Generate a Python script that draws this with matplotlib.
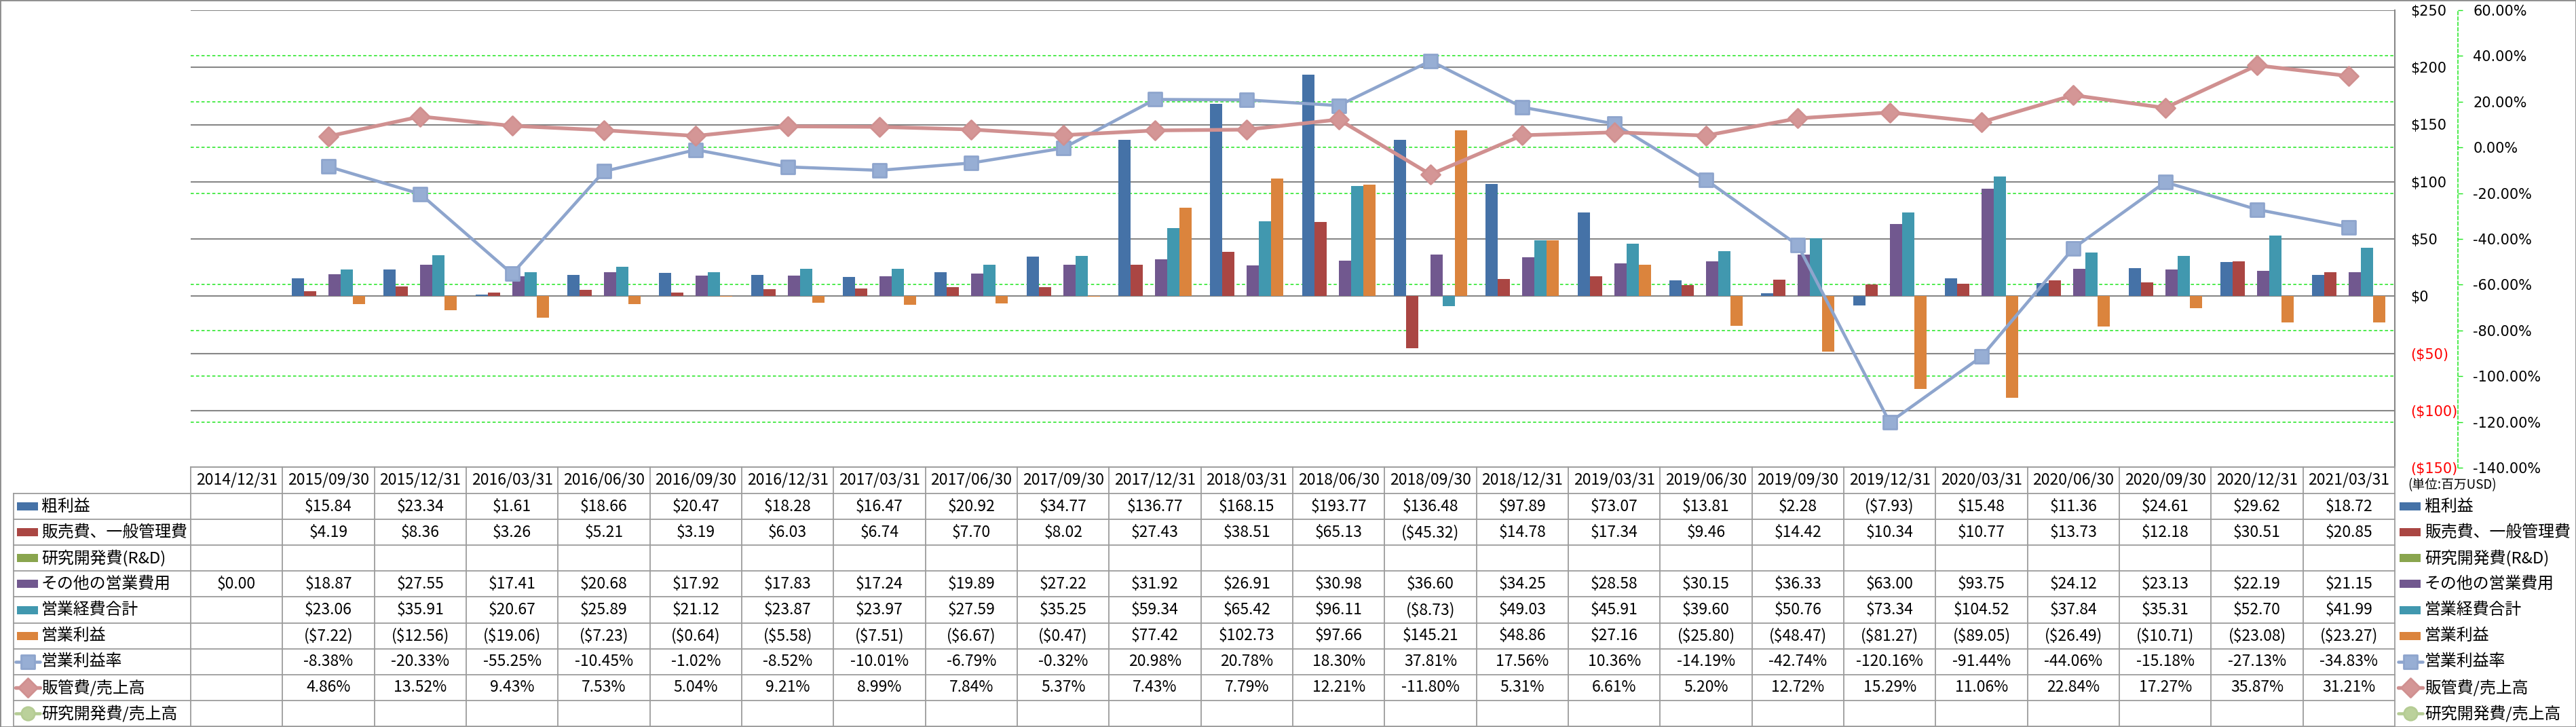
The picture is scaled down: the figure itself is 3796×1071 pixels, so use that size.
import numpy as np
import matplotlib
matplotlib.use("Agg")
import matplotlib.pyplot as plt
from matplotlib.lines import Line2D
from matplotlib.patches import Rectangle
from matplotlib.markers import MarkerStyle

plt.rcParams['font.family'] = ['DejaVu Sans']
CJK = ['Noto Sans CJK JP', 'DejaVu Sans']

# ---------------- data ----------------
categories = ["2014/12/31", "2015/09/30", "2015/12/31", "2016/03/31", "2016/06/30",
              "2016/09/30", "2016/12/31", "2017/03/31", "2017/06/30", "2017/09/30",
              "2017/12/31", "2018/03/31", "2018/06/30", "2018/09/30", "2018/12/31",
              "2019/03/31", "2019/06/30", "2019/09/30", "2019/12/31", "2020/03/31",
              "2020/06/30", "2020/09/30", "2020/12/31", "2021/03/31"]
nan = np.nan
gross_profit = [nan, 15.84, 23.34, 1.61, 18.66, 20.47, 18.28, 16.47, 20.92, 34.77,
                136.77, 168.15, 193.77, 136.48, 97.89, 73.07, 13.81, 2.28, -7.93,
                15.48, 11.36, 24.61, 29.62, 18.72]
sga = [nan, 4.19, 8.36, 3.26, 5.21, 3.19, 6.03, 6.74, 7.70, 8.02, 27.43, 38.51,
       65.13, -45.32, 14.78, 17.34, 9.46, 14.42, 10.34, 10.77, 13.73, 12.18,
       30.51, 20.85]
rnd = [nan, nan, nan, nan, nan, nan, nan, nan, nan, nan, nan, nan,
       nan, nan, nan, nan, nan, nan, nan, nan, nan, nan, nan, nan]
other_opex = [0.00, 18.87, 27.55, 17.41, 20.68, 17.92, 17.83, 17.24, 19.89, 27.22,
              31.92, 26.91, 30.98, 36.60, 34.25, 28.58, 30.15, 36.33, 63.00, 93.75,
              24.12, 23.13, 22.19, 21.15]
total_opex = [nan, 23.06, 35.91, 20.67, 25.89, 21.12, 23.87, 23.97, 27.59, 35.25,
              59.34, 65.42, 96.11, -8.73, 49.03, 45.91, 39.60, 50.76, 73.34, 104.52,
              37.84, 35.31, 52.70, 41.99]
op_income = [nan, -7.22, -12.56, -19.06, -7.23, -0.64, -5.58, -7.51, -6.67, -0.47,
             77.42, 102.73, 97.66, 145.21, 48.86, 27.16, -25.80, -48.47, -81.27,
             -89.05, -26.49, -10.71, -23.08, -23.27]
op_margin = [nan, -8.38, -20.33, -55.25, -10.45, -1.02, -8.52, -10.01, -6.79, -0.32,
             20.98, 20.78, 18.30, 37.81, 17.56, 10.36, -14.19, -42.74, -120.16,
             -91.44, -44.06, -15.18, -27.13, -34.83]
sga_ratio = [nan, 4.86, 13.52, 9.43, 7.53, 5.04, 9.21, 8.99, 7.84, 5.37, 7.43, 7.79,
             12.21, -11.80, 5.31, 6.61, 5.20, 12.72, 15.29, 11.06, 22.84, 17.27,
             35.87, 31.21]
rnd_ratio = [nan, nan, nan, nan, nan, nan, nan, nan, nan, nan, nan, nan,
             nan, nan, nan, nan, nan, nan, nan, nan, nan, nan, nan, nan]

bar_names = ["粗利益", "販売費、一般管理費", "研究開発費(R&D)", "その他の営業費用",
             "営業経費合計", "営業利益"]
line_names = ["営業利益率", "販管費/売上高", "研究開発費/売上高"]
usd_ticks = [-150, -100, -50, 0, 50, 100, 150, 200, 250]
pct_ticks = [-140, -120, -100, -80, -60, -40, -20, 0, 20, 40, 60]
unit_label = "(単位:百万USD)"

bar_values = [gross_profit, sga, rnd, other_opex, total_opex, op_income]
line_values = [op_margin, sga_ratio, rnd_ratio]

# ---------------- styles ----------------
bar_colors = ["#4572A7", "#AA4643", "#89A54E", "#71588F", "#4198AF", "#DB843D"]
line_colors = ["#8EA5CD", "#D09090", "#B5CC94"]
line_face = ["#97AED4", "#D49696", "#BBD19B"]
line_markers = ["s", "D", "o"]
line_ms = [14, 14.5, 14]
line_lw = [3.3, 3.9, 3.3]
GREEN = "#1EE61E"


def fmt_usd(v, dec=2):
    if v < 0:
        return f"(${-v:.{dec}f})"
    return f"${v:.{dec}f}"


def fmt_pct(v):
    return f"{v:.2f}%"


W, H = 3796, 1071


def fx(x):
    return x / W


def fy(y):
    return 1 - y / H


fig = plt.figure(figsize=(W / 100, H / 100), dpi=100)
fig.patch.set_facecolor("white")

PL, PR, PT, PB = 281, 3529, 15, 689
n = len(categories)
rect = [fx(PL), fy(PB), (PR - PL) / W, (PB - PT) / H]

# background axes for the green percent gridlines
axg = fig.add_axes(rect, zorder=0)
axg.set_xlim(-0.5, n - 0.5)
axg.set_ylim(pct_ticks[0], pct_ticks[-1])
axg.set_yticks(pct_ticks)
axg.set_xticks([])
axg.yaxis.grid(True, color=GREEN, linestyle=(0, (3, 2.2)), linewidth=1.1)
axg.tick_params(left=False, labelleft=False)
for s in axg.spines.values():
    s.set_visible(False)

# primary axes (bars)
ax = fig.add_axes(rect, zorder=1)
ax.patch.set_alpha(0)
x = np.arange(n)
nb = len(bar_values)
w = 0.8 / nb
for i, (vals, col) in enumerate(zip(bar_values, bar_colors)):
    ax.bar(x + (i - (nb - 1) / 2) * w, np.array(vals, dtype=float), width=w,
           color=col, linewidth=0, zorder=2)
ax.set_xlim(-0.5, n - 0.5)
ax.set_ylim(usd_ticks[0], usd_ticks[-1])
ax.set_xticks([])
ax.set_axisbelow(True)
ax.yaxis.grid(True, color="#878787", linewidth=1.5)
ax.yaxis.tick_right()
ax.tick_params(axis="y", length=0, pad=17, labelsize=15)
ax.set_yticks(usd_ticks, [fmt_usd(v, 0) for v in usd_ticks])
for t, v in zip(ax.get_yticklabels(), usd_ticks):
    t.set_color("red" if v < 0 else "black")
    t.set_horizontalalignment("left")
for side in ["left", "top", "bottom"]:
    ax.spines[side].set_visible(False)
ax.spines["right"].set_color("#878787")
ax.spines["right"].set_linewidth(1.5)

# secondary axes (lines)
ax2 = fig.add_axes(rect, zorder=2, sharex=ax)
ax2.patch.set_visible(False)
for i, (vals, col) in enumerate(zip(line_values, line_colors)):
    ax2.plot(x, np.array(vals, dtype=float), color=col, lw=line_lw[i],
             marker=MarkerStyle(line_markers[i], joinstyle="round"),
             ms=line_ms[i], mfc=line_face[i], mec=col, mew=2,
             solid_joinstyle="round", zorder=3)
ax2.set_ylim(pct_ticks[0], pct_ticks[-1])
ax2.yaxis.tick_right()
ax2.set_yticks(pct_ticks, [fmt_pct(v) for v in pct_ticks])
for t, v in zip(ax2.get_yticklabels(), pct_ticks):
    t.set_color("red" if v < 0 else "black")
ax2.tick_params(axis="y", direction="out", length=5, width=1, color=GREEN,
                pad=11, labelsize=15)
ax2.tick_params(axis="x", bottom=False, labelbottom=False)
for side in ["left", "top", "bottom"]:
    ax2.spines[side].set_visible(False)
ax2.spines["right"].set_position(("axes", (3622 - PL) / (PR - PL)))
ax2.spines["right"].set_color(GREEN)
ax2.spines["right"].set_linestyle((0, (3, 2.2)))
ax2.spines["right"].set_linewidth(1.1)

# ---------------- data table ----------------
GRID = "#9C9C9C"


def hline(y, x0, x1, color=GRID, lw=1.3):
    fig.add_artist(Line2D([fx(x0), fx(x1)], [fy(y), fy(y)], color=color, lw=lw,
                          transform=fig.transFigure))


def vline(xp, y0, y1, color=GRID, lw=1.3):
    fig.add_artist(Line2D([fx(xp), fx(xp)], [fy(y0), fy(y1)], color=color, lw=lw,
                          transform=fig.transFigure))


col_w = (PR - PL) / n
HDR_T, HDR_B = 688, 727
row_h = (1070 - HDR_B) / 9
row_edges = [HDR_B + k * row_h for k in range(10)]
row_centers = [(row_edges[k] + row_edges[k + 1]) / 2 for k in range(9)]

hline(HDR_T, PL, PR)
for yv in row_edges:
    hline(yv, 20, PR)
vline(20, HDR_B, 1070)
for k in range(n + 1):
    vline(PL + k * col_w, HDR_T, 1070)

FS = 16.5
FSL = 17.2
for k, c in enumerate(categories):
    fig.text(fx(PL + (k + 0.5) * col_w), fy((HDR_T + HDR_B) / 2), c, ha="center",
             va="center", fontsize=FS, family=CJK)

all_rows = [(nm, v, "usd") for nm, v in zip(bar_names, bar_values)] + \
           [(nm, v, "pct") for nm, v in zip(line_names, line_values)]
for r, (nm, vals, kind) in enumerate(all_rows):
    yc = row_centers[r]
    for k, v in enumerate(vals):
        if v is None or np.isnan(v):
            continue
        s = fmt_usd(v) if kind == "usd" else fmt_pct(v)
        fig.text(fx(PL + (k + 0.5) * col_w), fy(yc), s, ha="center", va="center",
                 fontsize=FS, family=CJK)


def legend_key(r, x_left, yc):
    if r < nb:
        fig.add_artist(Rectangle((fx(x_left + 2), fy(yc + 6)), 31 / W, 12 / H,
                                 facecolor=bar_colors[r], edgecolor="none",
                                 transform=fig.transFigure))
    else:
        j = r - nb
        fig.add_artist(Line2D([fx(x_left), fx(x_left + 36)], [fy(yc), fy(yc)],
                              color=line_colors[j], lw=line_lw[j],
                              solid_capstyle="round", transform=fig.transFigure))
        fig.add_artist(Line2D([fx(x_left + 18)], [fy(yc)], color=line_colors[j],
                              lw=0, marker=MarkerStyle(line_markers[j], joinstyle="round"),
                              ms=line_ms[j], mfc=line_face[j], mec=line_colors[j],
                              mew=2, transform=fig.transFigure))


for r, (nm, vals, kind) in enumerate(all_rows):
    yc = row_centers[r]
    legend_key(r, 23, yc)
    fig.text(fx(61), fy(yc), nm, ha="left", va="center", fontsize=FSL, family=CJK)
    legend_key(r, 3534, yc)
    fig.text(fx(3573), fy(yc), nm, ha="left", va="center", fontsize=FSL, family=CJK)

fig.text(fx(3548), fy(715), unit_label, ha="left", va="center", fontsize=13.5,
         family=CJK)

# outer border
fig.add_artist(Rectangle((0, 0), 1, 1, fill=False, edgecolor="#8C8C8C", lw=2,
                         transform=fig.transFigure))

fig.savefig("out.png", dpi=100, facecolor="white")
